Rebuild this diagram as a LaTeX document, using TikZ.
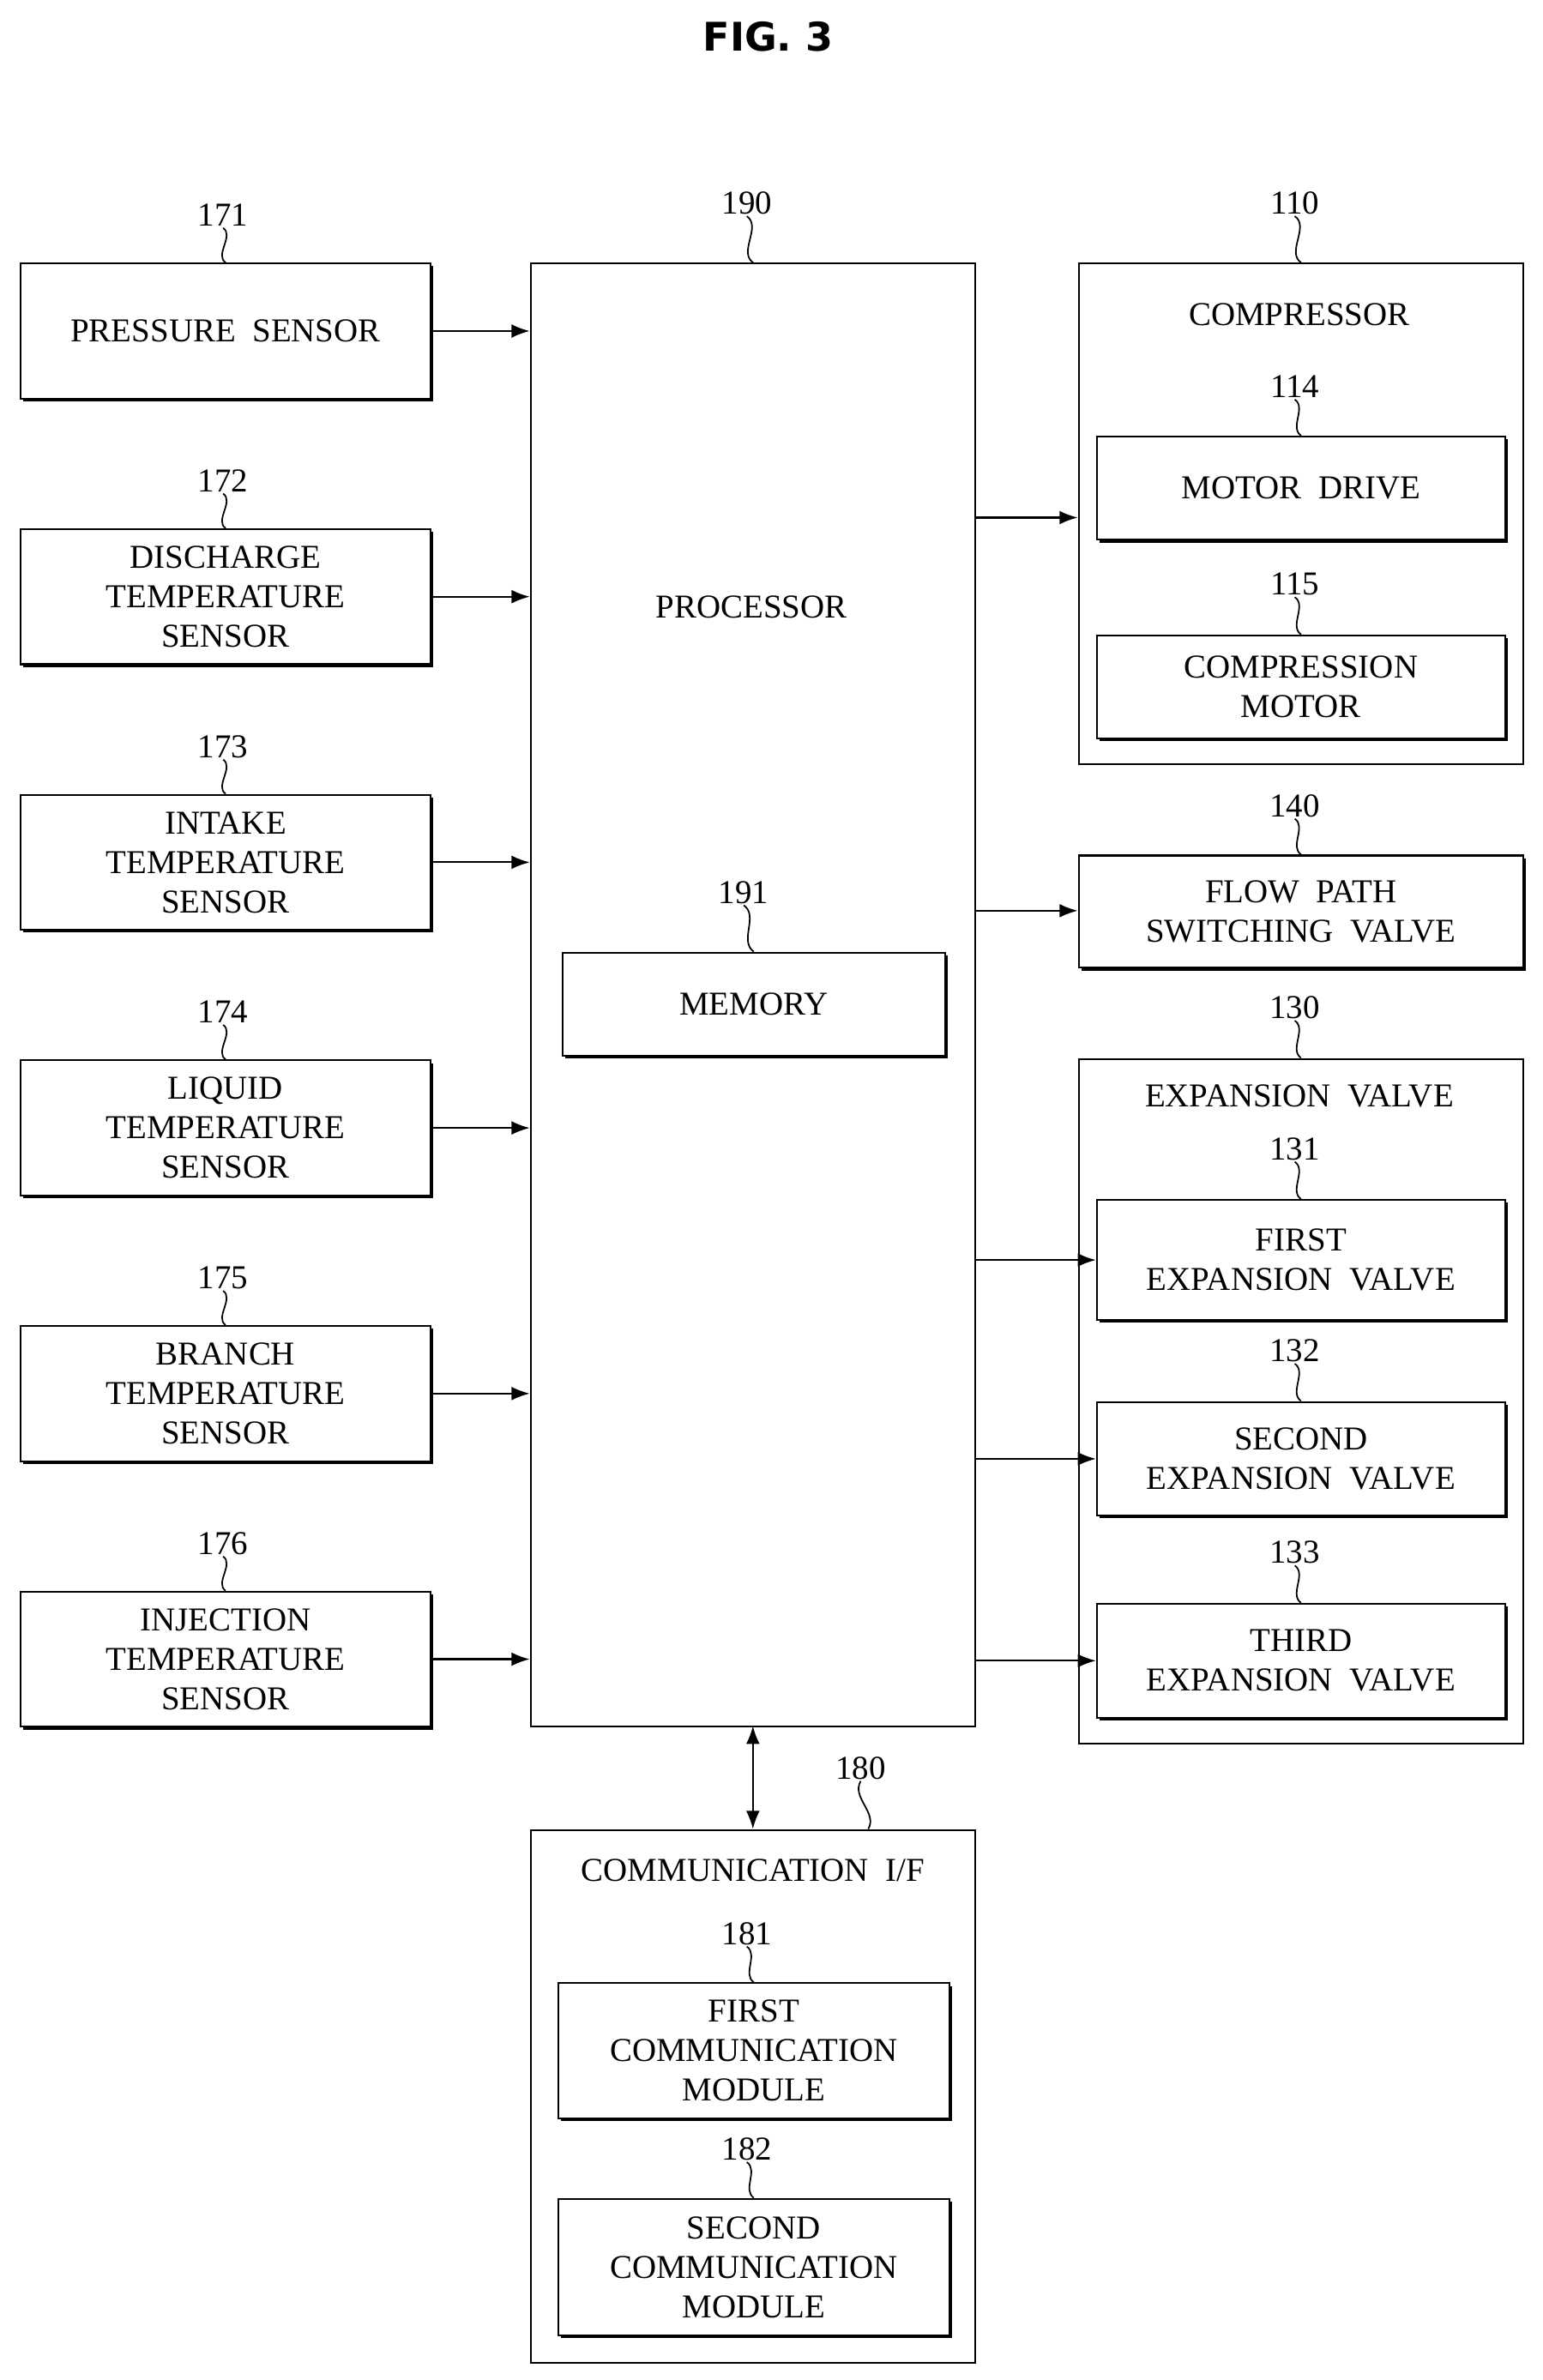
\documentclass[tikz,border=0pt]{standalone}
\usepackage{fontspec}
\setmainfont{Liberation Serif}
\newfontfamily\titlefont{DejaVu Sans}
\usetikzlibrary{shadows,arrows.meta,calc}
\begin{document}
\begin{tikzpicture}[x=1pt,y=-1pt,
  font=\fontsize{22}{26}\selectfont,
  box/.style={draw,fill=white,line width=1.2pt,anchor=north west,align=center,inner sep=0pt,
     drop shadow={shadow xshift=1.8pt,shadow yshift=-1.8pt,fill=black,opacity=1}},
  obox/.style={draw,fill=white,line width=1.2pt,anchor=north west,inner sep=0pt},
  lab/.style={inner sep=1pt,anchor=base},
  sq/.style={line width=1pt,out=-35,in=145},
  arr/.style={line width=1.2pt,-{Latex[length=12pt,width=9pt]}}]
\useasboundingbox (0,0) rectangle (1016,1568);
\node[font=\titlefont\bfseries\fontsize{26}{30}\selectfont] (title) at (506,24) {FIG. 3};
% processor
\node[obox,minimum width=293,minimum height=964] (p) at (349,173) {};
\node (pt) at (495,400) {PROCESSOR};
\node[lab] (l190) at (492,141) {190};
\draw[sq] (l190.south) to (p.north);
\node[box,minimum width=252,minimum height=68] (mem) at (370,627) {MEMORY};
\node[lab] (l191) at (490,595) {191};
\draw[sq] (l191.south) to (mem.north);
% sensors
\foreach \n/\y/\t in {171/173/PRESSURE\ \ SENSOR,172/348/DISCHARGE\\TEMPERATURE\\SENSOR,
  173/523/INTAKE\\TEMPERATURE\\SENSOR,174/698/LIQUID\\TEMPERATURE\\SENSOR,
  175/873/BRANCH\\TEMPERATURE\\SENSOR,176/1048/INJECTION\\TEMPERATURE\\SENSOR}{
  \node[box,minimum width=270,minimum height=89] (s\n) at (13,\y) {\t};
  \node[lab] (l\n) at (147,\y-24) {\n};
  \draw[sq] (l\n.south) to (s\n.north);
  \draw[arr] (s\n.east) -- (s\n.east -| p.west);
}
% compressor
\node[obox,minimum width=293,minimum height=330] (c) at (710,173) {};
\node (ct) at (856,207) {COMPRESSOR};
\node[lab] (l110) at (853,141) {110};
\draw[sq] (l110.south) to (c.north);
\node[box,minimum width=269,minimum height=68] (md) at (722,287) {MOTOR\ \ DRIVE};
\node[lab] (l114) at (853,262) {114};
\draw[sq] (l114.south) to (md.north);
\node[box,minimum width=269,minimum height=68] (cm) at (722,418) {COMPRESSION\\MOTOR};
\node[lab] (l115) at (853,392) {115};
\draw[sq] (l115.south) to (cm.north);
% flow path
\node[box,minimum width=293,minimum height=74] (fp) at (710,563) {FLOW\ \ PATH\\SWITCHING\ \ VALVE};
\node[lab] (l140) at (853,538) {140};
\draw[sq] (l140.south) to (fp.north);
% expansion
\node[obox,minimum width=293,minimum height=451] (e) at (710,697) {};
\node (et) at (856,722) {EXPANSION\ \ VALVE};
\node[lab] (l130) at (853,671) {130};
\draw[sq] (l130.south) to (e.north);
\node[box,minimum width=269,minimum height=79] (e1) at (722,790) {FIRST\\EXPANSION\ \ VALVE};
\node[lab] (l131) at (853,764) {131};
\draw[sq] (l131.south) to (e1.north);
\node[box,minimum width=269,minimum height=75] (e2) at (722,923) {SECOND\\EXPANSION\ \ VALVE};
\node[lab] (l132) at (853,897) {132};
\draw[sq] (l132.south) to (e2.north);
\node[box,minimum width=269,minimum height=75] (e3) at (722,1056) {THIRD\\EXPANSION\ \ VALVE};
\node[lab] (l133) at (853,1030) {133};
\draw[sq] (l133.south) to (e3.north);
% output arrows
\coordinate (o1) at (642,341);
\coordinate (o2) at (642,600);
\draw[arr] (o1) -- (o1 -| c.west);
\draw[arr] (o2) -- (o2 -| fp.west);
\draw[arr] (e1.west -| p.east) -- (e1.west);
\draw[arr] (e2.west -| p.east) -- (e2.west);
\draw[arr] (e3.west -| p.east) -- (e3.west);
% communication
\node[obox,minimum width=293,minimum height=351] (ci) at (349,1205) {};
\node (cit) at (496,1232) {COMMUNICATION\ \ I/F};
\node[lab] (l180) at (567,1172) {180};
\coordinate (c180) at (572,1205);
\draw[line width=1pt,out=-120,in=60] (l180.south) to (c180);
\node[box,minimum width=258,minimum height=89] (c1) at (367,1306) {FIRST\\COMMUNICATION\\MODULE};
\node[lab] (l181) at (492,1281) {181};
\draw[sq] (l181.south) to (c1.north);
\node[box,minimum width=258,minimum height=90] (c2) at (367,1448) {SECOND\\COMMUNICATION\\MODULE};
\node[lab] (l182) at (492,1423) {182};
\draw[sq] (l182.south) to (c2.north);
\coordinate (pa) at (496,1137);
\coordinate (pb) at (496,1205);
\draw[line width=1.2pt,{Latex[length=12pt,width=9pt]}-{Latex[length=12pt,width=9pt]}] (pa) -- (pb);
\end{tikzpicture}
\end{document}
